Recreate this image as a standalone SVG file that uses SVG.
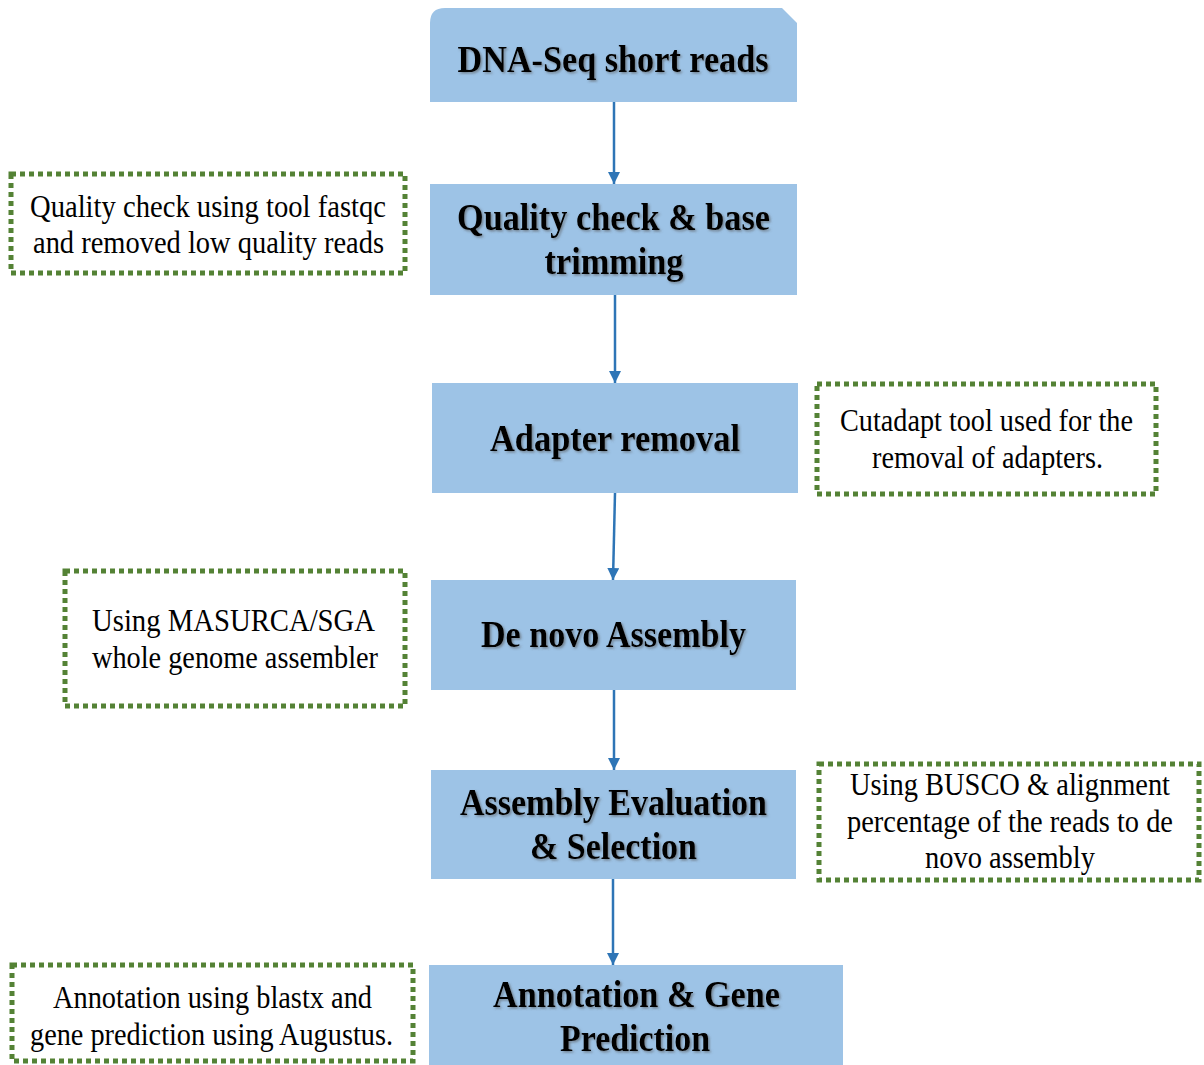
<svg xmlns="http://www.w3.org/2000/svg" width="1204" height="1065" viewBox="0 0 1204 1065">
  <defs>
    <filter id="sh" x="-5%" y="-20%" width="110%" height="140%">
      <feDropShadow dx="1.5" dy="1.5" stdDeviation="0.8" flood-color="#555" flood-opacity="0.6"/>
    </filter>
    <marker id="ah" markerUnits="userSpaceOnUse" markerWidth="14" markerHeight="14" refX="12" refY="6" orient="auto">
      <path d="M0,0 L12,6 L0,12 z" fill="#2E75B6"/>
    </marker>
  </defs>
  <style>
    .box { fill: #9DC3E6; }
    .note { fill: none; stroke: #548235; stroke-width: 5; stroke-dasharray: 5 4; }
    .lbl { font-family: "Liberation Serif", "Times New Roman", serif; font-weight: bold; font-size: 37px; fill: #000; text-anchor: middle; filter: url(#sh); }
    .txt { font-family: "Liberation Serif", "Times New Roman", serif; font-size: 31px; fill: #000; text-anchor: middle; }
    .arr { stroke: #2E75B6; stroke-width: 2.5; fill: none; marker-end: url(#ah); }
  </style>
  <rect width="1204" height="1065" fill="#fff"/>

  <g id="connectors">
    <line class="arr" x1="614" y1="102" x2="614" y2="184"/>
    <line class="arr" x1="615" y1="295" x2="615" y2="383"/>
    <line class="arr" x1="615" y1="493" x2="613" y2="580"/>
    <line class="arr" x1="614" y1="690" x2="614" y2="770"/>
    <line class="arr" x1="613" y1="879" x2="613" y2="965"/>
  </g>

  <g id="n1">
    <path class="box" d="M430,102 L430,23 Q430,8 445,8 L782,8 L797,23 L797,102 Z"/>
    <text class="lbl" x="613" y="72" textLength="311" lengthAdjust="spacingAndGlyphs">DNA-Seq short reads</text>
  </g>
  <g id="n2">
    <rect class="box" x="430" y="184" width="367" height="111"/>
    <text class="lbl" x="613.5" y="230" textLength="313" lengthAdjust="spacingAndGlyphs">Quality check &amp; base</text>
    <text class="lbl" x="614" y="274" textLength="139" lengthAdjust="spacingAndGlyphs">trimming</text>
  </g>
  <g id="n3">
    <rect class="box" x="432" y="383" width="366" height="110"/>
    <text class="lbl" x="615" y="451" textLength="250" lengthAdjust="spacingAndGlyphs">Adapter removal</text>
  </g>
  <g id="n4">
    <rect class="box" x="431" y="580" width="365" height="110"/>
    <text class="lbl" x="613.5" y="647" textLength="265" lengthAdjust="spacingAndGlyphs">De novo Assembly</text>
  </g>
  <g id="n5">
    <rect class="box" x="431" y="770" width="365" height="109"/>
    <text class="lbl" x="613.5" y="815" textLength="307" lengthAdjust="spacingAndGlyphs">Assembly Evaluation</text>
    <text class="lbl" x="613.5" y="859" textLength="167" lengthAdjust="spacingAndGlyphs">&amp; Selection</text>
  </g>
  <g id="n6">
    <rect class="box" x="429" y="965" width="414" height="100"/>
    <text class="lbl" x="636.5" y="1007" textLength="287" lengthAdjust="spacingAndGlyphs">Annotation &amp; Gene</text>
    <text class="lbl" x="635" y="1051" textLength="150" lengthAdjust="spacingAndGlyphs">Prediction</text>
  </g>

  <g id="note1">
    <rect class="note" x="11" y="174" width="394" height="99"/>
    <text class="txt" x="208" y="217" textLength="356" lengthAdjust="spacingAndGlyphs">Quality check using tool fastqc</text>
    <text class="txt" x="208.5" y="253" textLength="351" lengthAdjust="spacingAndGlyphs">and removed low quality reads</text>
  </g>
  <g id="note2">
    <rect class="note" x="817" y="384" width="339" height="110"/>
    <text class="txt" x="986.5" y="431" textLength="293" lengthAdjust="spacingAndGlyphs">Cutadapt tool used for the</text>
    <text class="txt" x="987.5" y="468" textLength="231" lengthAdjust="spacingAndGlyphs">removal of adapters.</text>
  </g>
  <g id="note3">
    <rect class="note" x="65" y="571" width="340" height="135"/>
    <text class="txt" x="233.5" y="631" textLength="283" lengthAdjust="spacingAndGlyphs">Using MASURCA/SGA</text>
    <text class="txt" x="235" y="668" textLength="286" lengthAdjust="spacingAndGlyphs">whole genome assembler</text>
  </g>
  <g id="note4">
    <rect class="note" x="819" y="764" width="380" height="116"/>
    <text class="txt" x="1010" y="795" textLength="320" lengthAdjust="spacingAndGlyphs">Using BUSCO &amp; alignment</text>
    <text class="txt" x="1010" y="832" textLength="326" lengthAdjust="spacingAndGlyphs">percentage of the reads to de</text>
    <text class="txt" x="1010" y="868" textLength="170" lengthAdjust="spacingAndGlyphs">novo assembly</text>
  </g>
  <g id="note5">
    <rect class="note" x="12" y="965" width="401" height="96"/>
    <text class="txt" x="212.5" y="1008" textLength="319" lengthAdjust="spacingAndGlyphs">Annotation using blastx and</text>
    <text class="txt" x="211.5" y="1045" textLength="363" lengthAdjust="spacingAndGlyphs">gene prediction using Augustus.</text>
  </g>
</svg>
